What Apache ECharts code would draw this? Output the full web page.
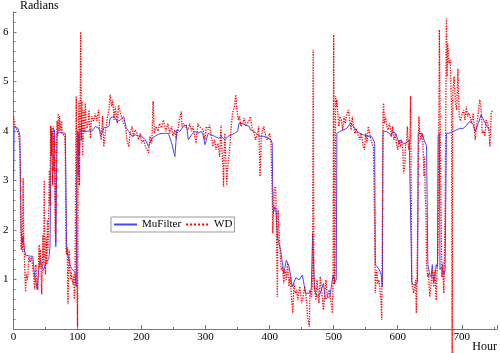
<!DOCTYPE html>
<html>
<head>
<meta charset="utf-8">
<script src="https://cdn.jsdelivr.net/npm/echarts@6/dist/echarts.min.js"></script>
<style>
html, body { margin: 0; padding: 0; background: #fff; }
#main { width: 500px; height: 353px; }
</style>
</head>
<body>
<div id="main"></div>
<script>
// [hour, radians]
var muFilter = [
  [0,3.0],[1,4.09],[4,4.1],[7,4.05],[10,3.9],[12,1.94],[14,1.74],[15,1.87],[17,1.6],[19,1.49],
  [22,1.47],[26,1.47],[30,1.47],[32,1.45],[33,1.06],[35,0.95],[37,0.79],[40,1.26],[42,1.39],[45,1.25],
  [47,1.19],[51,1.36],[55,1.4],[57,1.66],[59,4.06],[62,4.05],[64,4.02],[66,1.66],[68,3.96],[72,3.97],
  [76,3.96],[81,3.95],[83,1.6],[86,1.58],[89,1.26],[92,1.2],[94,1.2],[96,1.15],[98,0.85],[99,3.0],
  [100,4.0],[101,3.1],[102,3.95],[103,3.5],[104,4.02],[108,3.99],[113,3.99],[118,4.0],[123,4.0],[128,4.09],
  [133,4.06],[137,3.92],[141,4.06],[145,4.07],[149,4.09],[151,4.26],[157,4.29],[162,4.19],[167,4.22],[172,4.29],
  [176,4.06],[180,3.99],[185,3.89],[190,3.92],[195,3.9],[200,3.89],[206,3.82],[211,3.68],[216,3.85],[221,3.89],
  [226,3.93],[232,3.95],[237,3.95],[242,3.95],[247,3.75],[252,3.48],[255,4.02],[260,3.99],[265,4.09],[270,4.12],
  [273,3.82],[278,3.92],[283,3.99],[288,3.95],[293,3.99],[296,3.92],[299,3.72],[304,3.95],[309,3.92],[314,3.89],
  [320,3.85],[325,3.89],[330,3.82],[335,3.89],[340,3.92],[345,3.95],[350,3.99],[352,4.15],[357,4.15],[362,4.12],
  [368,4.09],[370,4.02],[376,3.99],[381,3.92],[386,3.89],[391,3.89],[397,3.85],[402,3.82],[404,3.75],[405,2.54],
  [406,2.34],[408,2.47],[410,2.4],[412,1.86],[417,1.6],[420,1.33],[422,1.12],[426,1.39],[430,1.27],[433,1.06],
  [435,0.85],[441,1.04],[446,0.99],[451,1.09],[453,0.95],[456,0.72],[461,0.72],[465,0.8],[467,1.93],[470,0.8],
  [474,0.65],[479,0.72],[484,0.92],[487,0.61],[490,0.6],[494,0.65],[497,0.92],[499,1.09],[502,0.95],[504,1.0],
  [505,3.95],[510,3.99],[516,4.02],[521,4.06],[526,4.15],[531,4.09],[536,3.99],[541,3.95],[547,3.92],[552,3.89],
  [554,3.92],[559,3.89],[562,3.82],[564,3.75],[565,1.3],[568,1.25],[571,1.2],[574,1.1],[576,0.85],[577,3.99],
  [582,3.99],[587,3.95],[590,3.89],[592,3.99],[597,3.95],[600,3.82],[602,3.75],[605,3.82],[608,3.75],[613,3.75],
  [618,3.82],[621,3.78],[622,0.95],[624,0.89],[628,0.89],[631,0.95],[632,3.95],[635,3.96],[638,3.95],[641,3.82],
  [643,3.82],[645,3.7],[647,1.3],[650,1.1],[652,1.05],[654,1.3],[656,0.95],[658,1.05],[660,1.3],[662,1.25],
  [663,3.9],[665,3.95],[666,1.2],[668,1.25],[670,1.2],[672,1.1],[674,1.2],[676,3.95],[680,3.95],[685,3.98],
  [692,4.02],[697,4.05],[702,4.05],[707,4.1],[712,4.19],[717,4.15],[721,3.99],[724,4.1],[726,4.15],[730,4.32],
  [733,4.25],[738,4.12],[743,4.02],[746,4.02]
];

var wd = [
  [0,4.3],[2,4.1],[4,4.05],[6,4.0],[8,3.95],[10,3.6],[12,1.6],[13,1.85],[14,1.55],[15,3.05],
  [16,1.8],[17,1.5],[18,1.0],[19,0.75],[20,1.1],[22,1.0],[24,1.45],[26,1.35],[28,1.45],[30,1.25],
  [32,1.0],[33,0.8],[35,1.3],[36,1.0],[37,0.9],[38,0.8],[40,1.7],[41,1.25],[42,1.6],[43,1.2],
  [44,0.7],[46,1.9],[47,1.3],[48,3.0],[49,1.5],[50,1.1],[51,1.85],[52,1.3],[53,2.2],[54,1.6],
  [55,2.3],[56,3.2],[57,2.5],[58,4.1],[59,3.5],[60,4.0],[61,2.9],[62,4.1],[63,3.2],[64,3.9],
  [65,2.0],[66,1.75],[67,3.2],[68,4.2],[69,3.9],[70,4.35],[71,4.0],[72,4.3],[73,4.1],[74,4.0],
  [75,4.2],[76,3.95],[78,3.95],[80,3.9],[81,3.5],[82,1.6],[83,1.5],[84,1.65],[85,0.5],[86,1.3],
  [87,1.6],[88,1.2],[89,1.0],[90,1.15],[92,0.95],[93,0.9],[94,1.1],[95,0.6],[96,0.95],[97,2.8],
  [98,4.7],[99,1.0],[100,0.05],[101,3.3],[102,4.6],[103,2.9],[104,4.4],[105,6.0],[106,3.8],[107,4.6],
  [108,3.5],[109,4.0],[110,4.42],[111,3.95],[112,4.56],[114,4.05],[116,4.1],[118,4.42],[120,3.85],[122,4.3],
  [125,4.2],[128,4.35],[130,4.2],[133,4.42],[135,3.95],[137,3.82],[139,4.3],[141,3.68],[144,4.02],[147,4.3],
  [149,4.42],[151,4.73],[153,4.49],[155,4.63],[157,4.22],[159,4.49],[162,4.15],[164,4.52],[167,4.36],[170,4.36],
  [172,4.15],[175,4.09],[177,3.82],[180,3.68],[182,3.95],[185,4.09],[187,3.89],[190,4.02],[193,3.95],[195,3.82],
  [198,3.95],[200,3.75],[203,3.82],[206,3.68],[208,3.65],[211,3.56],[213,3.89],[216,3.75],[218,4.6],[220,3.95],
  [223,4.09],[226,3.99],[228,4.15],[231,4.06],[234,4.22],[236,4.22],[238,3.99],[241,4.15],[244,3.95],[247,4.09],
  [249,3.89],[252,4.02],[254,3.82],[257,3.82],[259,4.22],[262,4.39],[263,4.09],[265,4.15],[268,4.09],[270,4.12],
  [273,4.02],[275,4.15],[278,3.99],[280,4.09],[283,3.89],[285,3.75],[288,4.15],[290,4.09],[293,4.12],[296,4.02],
  [299,3.82],[301,4.09],[304,4.02],[306,4.12],[309,3.89],[311,3.68],[314,3.82],[316,3.62],[319,3.75],[322,3.48],
  [324,4.12],[325,3.75],[327,3.28],[328,2.87],[329,3.62],[330,3.95],[332,3.28],[333,2.9],[334,3.21],[337,3.55],
  [340,4.09],[342,4.36],[345,4.49],[347,4.73],[349,4.42],[351,4.22],[353,4.29],[355,4.09],[358,4.15],[360,4.26],
  [363,4.09],[365,4.12],[368,4.22],[370,4.29],[373,4.02],[376,3.95],[378,3.82],[381,3.95],[383,4.09],[385,3.08],
  [386,3.07],[387,3.89],[389,4.02],[391,4.09],[394,3.89],[396,3.82],[398,3.89],[400,3.95],[402,3.75],[404,2.67],
  [405,1.93],[407,2.81],[409,2.88],[410,2.55],[412,0.65],[413,2.4],[416,1.66],[418,1.19],[420,1.25],[422,0.92],
  [424,1.19],[426,0.99],[428,1.33],[430,0.86],[432,1.06],[434,0.65],[436,0.32],[438,0.92],[440,0.72],[442,0.79],
  [444,0.58],[447,0.86],[450,0.52],[452,0.65],[455,0.86],[458,0.52],[459,0.25],[462,0.05],[463,0.79],[465,0.65],
  [467,0.92],[468,5.64],[469,1.2],[470,0.86],[472,0.58],[474,0.99],[477,0.52],[479,1.06],[481,0.79],[484,0.38],
  [486,0.72],[488,0.99],[490,0.65],[493,0.79],[495,0.6],[497,0.6],[498,0.32],[499,1.0],[500,5.94],[501,0.9],
  [502,1.2],[503,4.7],[504,4.5],[505,4.63],[506,4.42],[508,4.09],[510,4.29],[512,4.22],[514,4.02],[516,4.29],
  [518,4.15],[521,4.36],[523,4.42],[525,4.22],[527,4.02],[529,4.29],[531,4.09],[533,3.95],[535,4.05],[537,3.95],
  [539,3.99],[541,3.82],[543,3.95],[546,3.68],[548,3.62],[550,3.95],[552,3.75],[554,4.09],[556,4.05],[558,3.82],
  [560,3.75],[562,3.68],[564,2.0],[565,0.72],[567,1.19],[569,0.92],[571,0.99],[574,0.52],[575,0.18],[577,4.36],
  [578,4.56],[579,4.15],[581,4.29],[583,4.09],[585,4.02],[587,4.15],[589,4.02],[590,3.89],[592,4.09],[594,3.82],
  [596,3.95],[598,3.75],[600,3.62],[602,3.82],[604,3.68],[606,3.82],[608,3.62],[609,3.14],[611,3.28],[612,3.68],
  [614,3.82],[615,4.09],[617,3.62],[619,3.82],[620,4.7],[622,0.92],[625,0.72],[628,0.99],[629,0.32],[631,1.87],
  [633,4.29],[634,4.02],[636,3.82],[638,3.95],[639,3.89],[641,3.08],[642,3.48],[643,2.68],[644,2.41],[645,1.3],
  [647,1.05],[648,1.12],[650,0.65],[652,0.92],[654,1.19],[656,0.85],[658,1.19],[660,0.58],[661,1.05],[663,1.53],
  [665,6.04],[667,3.08],[669,1.05],[670,1.32],[672,0.72],[674,2.4],[676,6.27],[677,5.1],[678,5.77],[680,5.37],
  [682,5.43],[684,4.5],[685,-0.7],[686,4.76],[688,5.1],[690,4.56],[692,4.42],[694,5.26],[696,4.29],[698,4.2],
  [701,4.36],[703,4.42],[705,4.22],[707,4.49],[709,4.29],[711,4.36],[713,4.29],[715,4.15],[718,4.36],[720,3.95],
  [721,3.82],[723,4.09],[725,4.29],[728,4.63],[730,4.49],[732,3.95],[734,4.0],[736,3.89],[738,4.22],[740,4.15],
  [742,4.09],[744,3.68],[746,4.36],[748,4.42]
];

var seriesNames = ['MuFilter', 'WD'];
var serif = '"Liberation Serif", "Times New Roman", serif';

var myChart = echarts.init(document.getElementById('main'));

var option = {
    animation: false,
    textStyle: { fontFamily: serif },
    grid: { left: 10, right: 2, top: 12, bottom: 24 },
    legend: {
        left: 111,
        top: 217,
        padding: [2, 2, 2, 2],
        itemWidth: 23,
        itemHeight: 8,
        itemGap: 4,
        borderColor: '#999',
        borderWidth: 1,
        backgroundColor: '#fff',
        itemStyle: { opacity: 0 },
        textStyle: { fontFamily: serif, fontSize: 11, color: '#000' },
        data: seriesNames
    },
    xAxis: {
        type: 'value',
        min: 0,
        max: 755,
        interval: 100,
        axisLine: { lineStyle: { color: '#777' } },
        axisTick: { inside: true, length: 4, lineStyle: { color: '#777' } },
        minorTick: { show: true, splitNumber: 2, length: 2, lineStyle: { color: '#777' } },
        splitLine: { show: false },
        axisLabel: {
            margin: 3,
            fontFamily: serif,
            fontSize: 11,
            color: '#000',
            formatter: function (v) { return v % 100 === 0 ? v : ''; }
        }
    },
    yAxis: {
        type: 'value',
        min: 0,
        max: 6.4,
        interval: 1,
        offset: 3,
        axisLine: { show: true, lineStyle: { color: '#777' } },
        axisTick: { show: true, inside: true, length: 3, lineStyle: { color: '#777' } },
        minorTick: { show: true, splitNumber: 5, length: 2, lineStyle: { color: '#777' } },
        splitLine: { show: false },
        axisLabel: {
            margin: 2,
            fontFamily: serif,
            fontSize: 11,
            color: '#000',
            formatter: function (v) { return (v > 0 && v === Math.round(v)) ? v : ''; }
        }
    },
    graphic: [
        { type: 'text', left: 20, top: 0, style: { text: 'Radians', font: '12px "Liberation Serif"', fill: '#000' } },
        { type: 'text', right: 3, top: 341, style: { text: 'Hour', font: '12px "Liberation Serif"', fill: '#000' } }
    ],
    series: [
        {
            name: seriesNames[0],
            type: 'line',
            symbol: 'none',
            data: muFilter,
            lineStyle: { color: '#4646ff', width: 1 },
            itemStyle: { color: '#4646ff' }
        },
        {
            name: seriesNames[1],
            type: 'line',
            symbol: 'none',
            clip: false,
            data: wd,
            lineStyle: { color: '#ff0000', width: 1.3, type: 'dotted' },
            itemStyle: { color: '#ff0000' }
        }
    ]
};
myChart.setOption(option);
</script>
</body>
</html>
